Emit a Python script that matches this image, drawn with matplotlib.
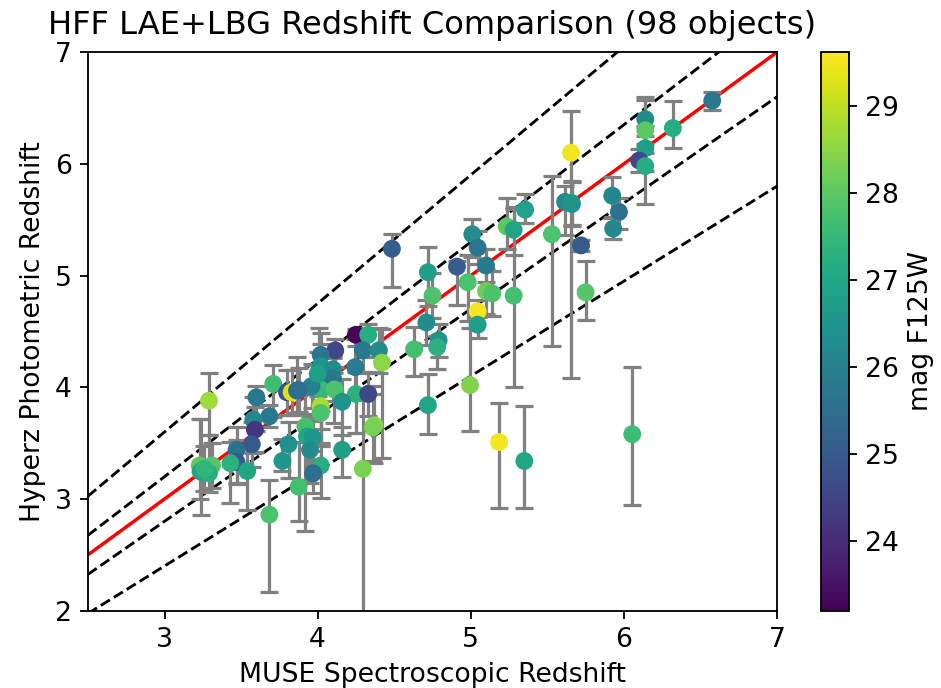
import numpy as np
import matplotlib
matplotlib.use("Agg")
import matplotlib.pyplot as plt

# spectroscopic redshift (MUSE)
z_spec = [6.577, 6.14, 6.14, 6.32, 6.14, 6.10, 6.14, 5.924, 5.968, 5.93,
          5.655, 5.616, 5.66, 5.72, 5.53, 5.75, 5.355, 5.235, 5.28, 5.28,
          5.01, 5.045, 5.10, 4.91, 4.98, 5.10, 5.14, 5.045, 5.045, 4.72,
          4.75, 4.71, 4.79, 4.78, 6.055, 5.185, 5.35, 4.995, 4.72, 4.25,
          4.33, 4.115, 4.295, 4.40, 4.42, 4.245, 4.02, 4.02, 4.10, 4.10,
          4.007, 3.97, 4.02, 4.11, 4.25, 4.33, 4.16, 4.02, 4.02, 3.92,
          4.37, 3.93, 3.967, 3.95, 4.16, 4.02, 3.97, 4.295, 4.63, 3.876,
          3.29, 3.71, 3.60, 3.80, 3.83, 3.865, 3.685, 3.58, 3.59, 3.57,
          3.47, 3.47, 3.43, 3.54, 3.23, 3.235, 3.31, 3.29, 3.81, 3.77,
          3.685, 4.485, 3.96, 3.876, 4.00, 4.36, 3.26, 5.66]

# photometric redshift (Hyperz)
z_phot = [6.566, 6.40, 6.30, 6.32, 6.14, 6.03, 5.98, 5.715, 5.57, 5.42,
          6.10, 5.66, 5.65, 5.27, 5.37, 4.85, 5.59, 5.44, 5.41, 4.82,
          5.37, 5.25, 5.09, 5.08, 4.94, 4.86, 4.84, 4.68, 4.56, 5.03,
          4.82, 4.58, 4.42, 4.36, 3.58, 3.51, 3.34, 4.02, 3.84, 4.47,
          4.47, 4.33, 4.33, 4.33, 4.22, 4.18, 4.29, 4.19, 4.16, 4.08,
          4.05, 4.00, 3.98, 3.98, 3.94, 3.94, 3.87, 3.83, 3.77, 3.65,
          3.66, 3.56, 3.55, 3.44, 3.44, 3.30, 3.23, 3.27, 4.34, 3.11,
          3.88, 4.03, 3.91, 3.955, 3.955, 3.97, 3.74, 3.71, 3.62, 3.49,
          3.44, 3.33, 3.32, 3.25, 3.30, 3.245, 3.30, 3.23, 3.49, 3.34,
          2.86, 5.24, 4.01, 3.976, 4.12, 3.64, 3.27, 5.64]

err_lo = [0.08, 0.15, 0.20, 0.18, 0.20, 0.10, 0.34, 0.20, 0.15, 0.09,
          2.02, 0.30, 0.20, 0.05, 1.00, 0.25, 0.12, 0.20, 0.23, 0.82,
          0.20, 0.15, 0.15, 0.34, 0.35, 0.20, 0.20, 0.05, 0.12, 0.30,
          0.20, 0.20, 0.15, 0.20, 0.63, 0.59, 0.42, 0.41, 0.26, 0.10,
          0.20, 0.15, 0.20, 0.20, 0.85, 0.25, 0.20, 0.40, 0.20, 0.20,
          0.30, 0.30, 0.50, 0.30, 0.35, 0.20, 0.30, 0.20, 0.30, 0.94,
          0.34, 0.40, 0.30, 0.30, 0.24, 0.29, 0.18, 1.50, 0.24, 0.31,
          0.31, 0.30, 0.30, 0.20, 0.20, 0.20, 0.10, 0.30, 0.20, 0.20,
          0.30, 0.20, 0.36, 0.35, 0.30, 0.39, 0.20, 0.17, 0.30, 0.09,
          0.69, 0.34, 0.20, 0.20, 0.20, 0.30, 0.20, 0.20]

err_hi = [0.08, 0.20, 0.27, 0.24, 0.20, 0.10, 0.20, 0.17, 0.12, 0.10,
          0.37, 0.14, 0.20, 0.05, 0.52, 0.28, 0.14, 0.25, 0.20, 0.78,
          0.14, 0.15, 0.15, 0.05, 0.24, 0.20, 0.20, 0.10, 0.10, 0.23,
          0.20, 0.20, 0.15, 0.10, 0.60, 0.35, 0.49, 0.51, 0.28, 0.05,
          0.10, 0.10, 0.20, 0.20, 0.30, 0.25, 0.20, 0.20, 0.10, 0.20,
          0.48, 0.20, 0.30, 0.15, 0.20, 0.20, 0.20, 0.20, 0.30, 0.30,
          0.35, 0.20, 0.20, 0.30, 0.20, 0.20, 0.20, 0.62, 0.20, 0.40,
          0.245, 0.17, 0.10, 0.20, 0.20, 0.30, 0.10, 0.20, 0.20, 0.20,
          0.20, 0.20, 0.19, 0.20, 0.42, 0.47, 0.20, 0.34, 0.20, 0.20,
          0.31, 0.13, 0.20, 0.20, 0.20, 0.30, 0.20, 0.20]

# F125W magnitude (colour)
mag = [25.8, 26.3, 28.0, 27.2, 26.8, 24.6, 27.2, 26.2, 25.6, 26.2,
       29.5, 26.3, 26.8, 25.0, 27.8, 27.9, 26.9, 28.0, 27.0, 27.7,
       26.3, 25.7, 25.8, 25.1, 27.8, 28.2, 27.8, 29.5, 26.8, 26.8,
       27.8, 26.3, 26.5, 27.3, 27.6, 29.5, 27.0, 28.4, 27.0, 23.3,
       27.2, 24.6, 25.8, 26.3, 28.5, 25.9, 25.7, 26.5, 26.3, 25.8,
       25.7, 26.2, 27.5, 27.8, 27.3, 24.6, 26.5, 28.8, 27.8, 27.7,
       28.5, 27.0, 26.6, 26.3, 26.8, 27.2, 25.5, 28.3, 27.7, 27.7,
       28.7, 27.6, 25.8, 24.8, 29.3, 25.6, 25.8, 26.2, 24.2, 25.0,
       25.6, 25.0, 27.3, 27.0, 28.0, 27.0, 27.9, 27.2, 26.4, 26.6,
       27.8, 25.1, 26.0, 25.5, 26.8, 28.3, 27.4, 26.5]

plt.rcParams["font.size"] = 11.6
plt.rcParams["axes.titlesize"] = 14

fig = plt.figure(figsize=(941 / 165, 688 / 165), dpi=165)
ax = fig.add_axes([0.0935, 0.1124, 0.7322, 0.8118])
cax = fig.add_axes([0.8725, 0.1124, 0.0298, 0.8118])

zz = np.array([2.5, 7.0])
ax.plot(zz, zz, color="red", lw=1.5, zorder=1)
for f in [0.05, 0.15]:
    ax.plot(zz, zz + f * (1 + zz), "k--", lw=1.25, zorder=1)
    ax.plot(zz, zz - f * (1 + zz), "k--", lw=1.25, zorder=1)

ax.errorbar(z_spec, z_phot, yerr=[err_lo, err_hi], fmt="none",
            ecolor="gray", elinewidth=1.4, capsize=4, capthick=1.4, zorder=2)
sc = ax.scatter(z_spec, z_phot, c=mag, cmap="viridis", vmin=23.2, vmax=29.62,
                s=46, zorder=3)

ax.set_xlim(2.5, 7)
ax.set_ylim(2, 7)
ax.set_xticks([3, 4, 5, 6, 7])
ax.set_yticks([2, 3, 4, 5, 6, 7])
ax.set_xlabel("MUSE Spectroscopic Redshift")
ax.set_ylabel("Hyperz Photometric Redshift")
ax.set_title("HFF LAE+LBG Redshift Comparison (98 objects)", pad=8)

cb = fig.colorbar(sc, cax=cax)
cb.set_label("mag F125W")

fig.savefig("out.png", dpi=165)
